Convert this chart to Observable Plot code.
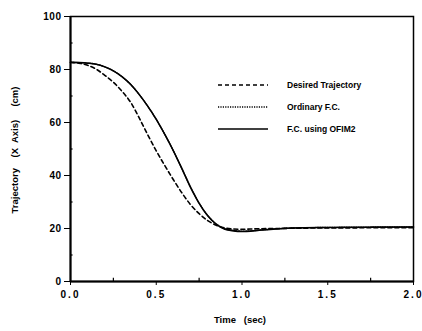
<!DOCTYPE html>
<html>
<head>
<meta charset="utf-8">
<script src="https://cdn.jsdelivr.net/npm/d3@7"></script>
<script src="https://cdn.jsdelivr.net/npm/@observablehq/plot@0.6"></script>
<style>
  html, body { margin: 0; padding: 0; background: #fff; }
  #chart { width: 422px; height: 331px; }
  svg text { font-family: "Liberation Sans", Arial, sans-serif; font-weight: bold; }
</style>
</head>
<body>
<div id="chart"></div>
<script>
const time = [0, 0.05, 0.1, 0.15, 0.2, 0.25, 0.3, 0.35, 0.4, 0.45, 0.5, 0.55, 0.6, 0.65, 0.7, 0.75, 0.8, 0.85, 0.9, 0.95, 1.0, 1.05, 1.1, 1.2, 1.3, 1.5, 2.0];
const desired = [82.7, 82.4, 81.6, 80.1, 77.8, 75.2, 71.8, 67.7, 61.8, 55.4, 49.3, 43.7, 38.4, 33.4, 29.0, 25.6, 23.0, 21.2, 20.2, 19.8, 19.7, 19.8, 19.9, 20.0, 20.1, 20.2, 20.3];
const ordinary = [82.7, 82.6, 82.4, 82.0, 81.0, 79.5, 77.3, 74.4, 70.6, 66.2, 61.2, 55.5, 49.3, 42.6, 35.6, 29.6, 24.9, 21.7, 19.9, 19.3, 19.0, 19.1, 19.4, 19.9, 20.2, 20.4, 20.6];
const ofim2 = [82.7, 82.6, 82.4, 82.0, 81.0, 79.5, 77.3, 74.4, 70.6, 66.2, 61.2, 55.5, 49.3, 42.5, 35.5, 29.5, 24.8, 21.6, 19.7, 19.1, 18.9, 19.0, 19.3, 19.8, 20.2, 20.4, 20.6];
const seriesNames = ["Desired Trajectory", "Ordinary F.C.", "F.C. using OFIM2"];
const xTicks = [0, 0.5, 1.0, 1.5, 2.0];
const xMinor = [0.25, 0.75, 1.25, 1.75];
const yTicks = [0, 20, 40, 60, 80, 100];
const yMinor = [10, 30, 50, 70, 90];

const styles = [
  {strokeDasharray: "4,3", strokeWidth: 1.6},
  {strokeDasharray: "1.2,1.2", strokeWidth: 1.4},
  {strokeDasharray: null, strokeWidth: 1.5}
];
const seriesValues = [desired, ordinary, ofim2];
const rows = [];
seriesNames.forEach((name, i) => time.forEach((t, j) => rows.push({series: name, t, v: seriesValues[i][j]})));

const plot = Plot.plot({
  width: 422,
  height: 331,
  marginLeft: 70,
  marginRight: 9,
  marginTop: 16,
  marginBottom: 50,
  x: {domain: [0, 2], label: null},
  y: {domain: [0, 100], label: null},
  marks: [
    Plot.frame({stroke: "#000", strokeWidth: 1.5}),
    Plot.axisX({ticks: xTicks, tickFormat: d3.format(".1f"), tickSize: 4, tickPadding: 5, fontSize: 10, fontWeight: "bold"}),
    Plot.ruleX(xMinor, {x: d => d, y1: 0, y2: 1.2, stroke: "#000", strokeWidth: 1.2}),
    Plot.axisY({ticks: yTicks, tickSize: 6, tickPadding: 3, fontSize: 10, fontWeight: "bold"}),
    Plot.ruleY(yMinor, {x1: 0, x2: 0.015, y: d => d, stroke: "#000", strokeWidth: 1.2}),
    ...seriesNames.map((name, i) => Plot.line(rows.filter(r => r.series === name), {
      x: "t", y: "v", curve: "monotone-x", stroke: "#000",
      strokeWidth: styles[i].strokeWidth, strokeDasharray: styles[i].strokeDasharray
    })),
    Plot.ruleY([0], {stroke: "#000", strokeWidth: 2}),
    Plot.ruleX([0], {stroke: "#000", strokeWidth: 2})
  ]
});

const svg = d3.select(plot);
svg.selectAll("g[aria-label='x-axis tick label'] text").attr("letter-spacing", "2");
svg.selectAll("g[aria-label='y-axis tick label'] text").attr("letter-spacing", "0.5");

// legend
const lg = svg.append("g").attr("font-size", 8.5).attr("font-weight", "bold").attr("text-anchor", "start");
seriesNames.forEach((name, i) => {
  const y = 85 + i * 22;
  lg.append("line").attr("x1", 218).attr("x2", 268).attr("y1", y).attr("y2", y)
    .attr("stroke", "#000").attr("stroke-width", styles[i].strokeWidth)
    .attr("stroke-dasharray", styles[i].strokeDasharray);
  lg.append("text").attr("x", 287).attr("y", y).attr("dy", "0.35em").attr("text-anchor", "start").text(name);
});

// axis titles
svg.append("text").attr("transform", "translate(18,150) rotate(-90)")
  .attr("text-anchor", "middle").attr("font-size", 9.5).attr("font-weight", "bold")
  .style("white-space", "pre")
  .text("Trajectory    (X  Axis)     (cm)");
svg.append("text").attr("x", 240).attr("y", 323)
  .attr("text-anchor", "middle").attr("font-size", 9.5).attr("font-weight", "bold")
  .style("white-space", "pre").text("Time   (sec)");

document.getElementById("chart").appendChild(plot);
</script>
</body>
</html>
